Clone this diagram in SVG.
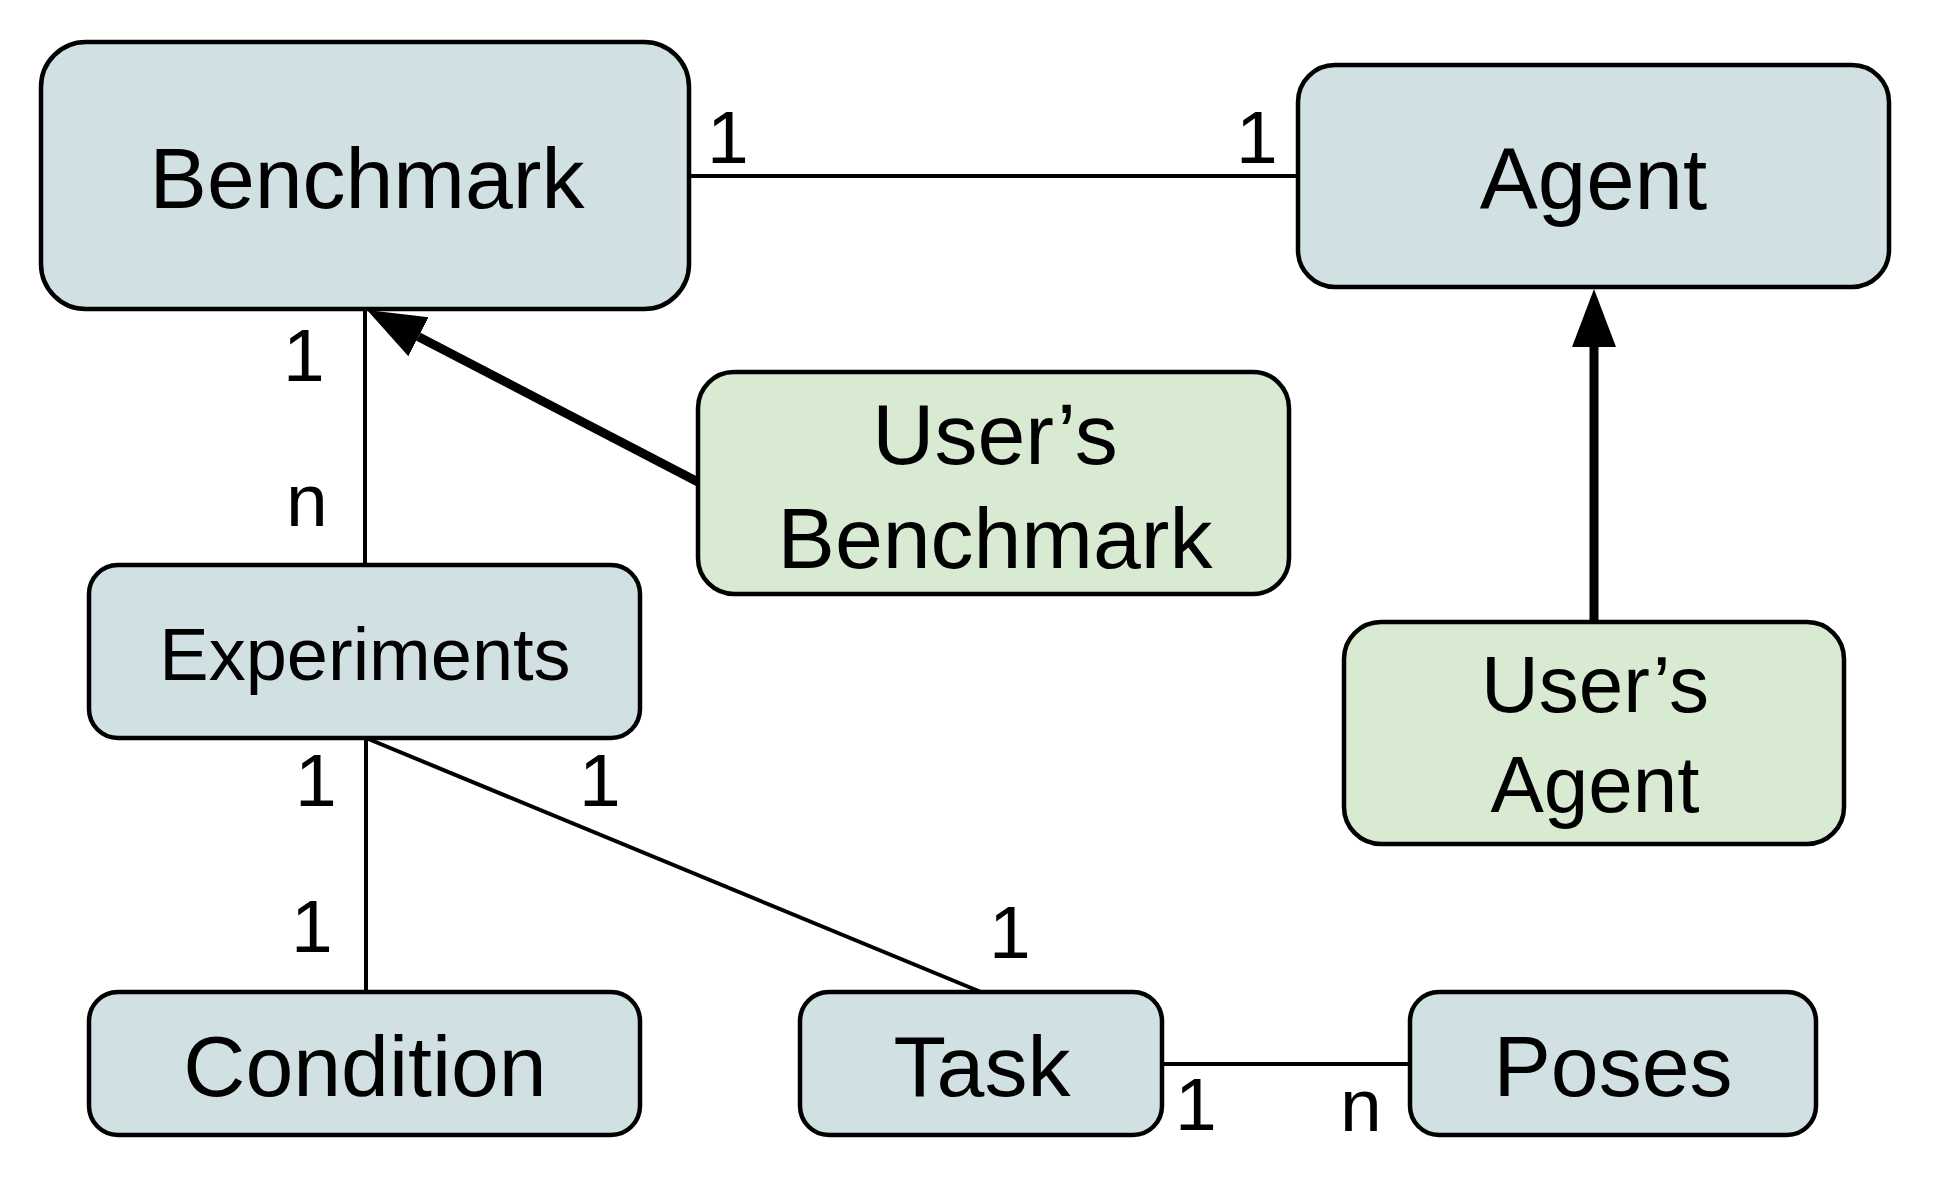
<svg xmlns="http://www.w3.org/2000/svg" width="1935" height="1203" viewBox="0 0 1935 1203">
<style>
.box{fill:#d0e0e3;stroke:#000;stroke-width:4.5}
.gbox{fill:#d9ead3;stroke:#000;stroke-width:4.5}
.t{font-family:"Liberation Sans",Arial,sans-serif;fill:#000;text-anchor:middle;font-size:86px}
.lbl{font-family:"Liberation Sans",Arial,sans-serif;fill:#000;font-size:75px}
.thin{stroke:#000;stroke-width:4;fill:none}
.thick{stroke:#000;stroke-width:9;fill:none}
</style>
<defs>
<marker id="ah" markerUnits="userSpaceOnUse" markerWidth="60" markerHeight="46" refX="0" refY="22" orient="auto">
<path d="M0,0 L58,22 L0,44 z" fill="#000"/>
</marker>
</defs>
<rect width="1935" height="1203" fill="#fff"/>
<g id="connectors">
<line class="thin" x1="689" y1="176" x2="1298" y2="176"/>
<line class="thin" x1="365" y1="309" x2="365" y2="565"/>
<line class="thin" x1="366" y1="738" x2="366" y2="992"/>
<line class="thin" x1="366" y1="738" x2="981" y2="992"/>
<line class="thin" x1="1162" y1="1064" x2="1410" y2="1064"/>
<line class="thick" x1="698" y1="482" x2="418.5" y2="336.7" marker-end="url(#ah)"/>
<line class="thick" x1="1594" y1="622" x2="1594" y2="347" marker-end="url(#ah)"/>
<text class="lbl" x="707" y="163">1</text>
<text class="lbl" x="1236" y="163">1</text>
<text class="lbl" x="283" y="381">1</text>
<text class="lbl" x="286" y="526">n</text>
<text class="lbl" x="295" y="806">1</text>
<text class="lbl" x="579" y="806">1</text>
<text class="lbl" x="291" y="952">1</text>
<text class="lbl" x="989" y="958">1</text>
<text class="lbl" x="1175" y="1130">1</text>
<text class="lbl" x="1340" y="1131">n</text>
</g>
<g id="benchmark">
<rect class="box" x="41" y="42" width="648" height="267" rx="45"/>
<text class="t" x="367" y="208">Benchmark</text>
</g>
<g id="agent">
<rect class="box" x="1298" y="65" width="591" height="222" rx="37"/>
<text class="t" x="1593.5" y="209" style="font-size:87px">Agent</text>
</g>
<g id="users-benchmark">
<rect class="gbox" x="698" y="372" width="591" height="222" rx="36"/>
<text class="t" x="995" y="464">User’s</text>
<text class="t" x="995" y="568">Benchmark</text>
</g>
<g id="users-agent">
<rect class="gbox" x="1344" y="622" width="500" height="222" rx="37"/>
<text class="t" x="1595" y="712" style="font-size:80px">User’s</text>
<text class="t" x="1595" y="812" style="font-size:80px">Agent</text>
</g>
<g id="experiments">
<rect class="box" x="89" y="565" width="551" height="173" rx="29"/>
<text class="t" x="365" y="680" style="font-size:74px">Experiments</text>
</g>
<g id="condition">
<rect class="box" x="89" y="992" width="551" height="143" rx="29"/>
<text class="t" x="365" y="1096">Condition</text>
</g>
<g id="task">
<rect class="box" x="800" y="992" width="362" height="143" rx="29"/>
<text class="t" x="982" y="1096">Task</text>
</g>
<g id="poses">
<rect class="box" x="1410" y="992" width="406" height="143" rx="29"/>
<text class="t" x="1613" y="1096">Poses</text>
</g>
</svg>
